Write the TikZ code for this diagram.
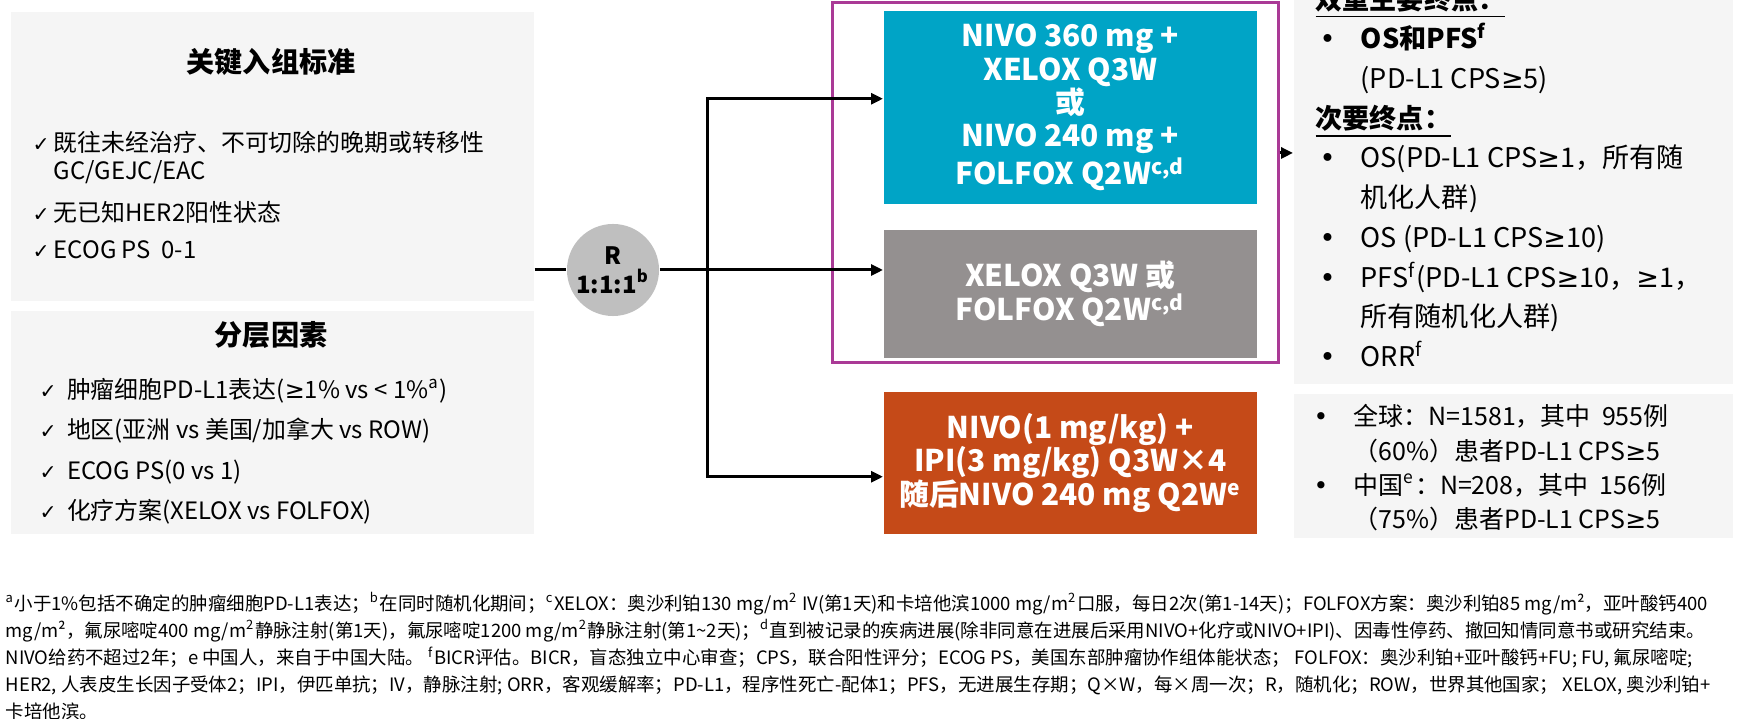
\documentclass[tikz,border=0pt]{standalone}
\usepackage{fontspec}
\setmainfont{Noto Sans CJK SC}
\newfontfamily\symfont{DejaVu Sans}
\usepackage{tikz}
\usetikzlibrary{arrows.meta, positioning, fit}
\definecolor{panelgray}{RGB}{245,245,245}
\definecolor{armteal}{RGB}{0,164,198}
\definecolor{armgray}{RGB}{148,144,144}
\definecolor{armorange}{RGB}{197,74,24}
\definecolor{framepurple}{RGB}{170,58,150}
\definecolor{randgray}{RGB}{191,191,191}
\tikzstyle{arrow} = [-{Triangle[length=0.12cm, width=0.11cm]}, line width=0.03cm, black]
\tikzstyle{link} = [line width=0.03cm, black]
\newcommand{\ck}[1][0.21cm]{\makebox[#1][l]{\symfont\fontsize{5.8pt}{5.8pt}\selectfont ✓}}
\newcommand{\bl}[1][0.45cm]{\makebox[#1][l]{\hspace{0.04cm}{\symfont •}}}
\newcommand{\geqsym}{{\symfont ≥}}

\begin{document}
\begin{tikzpicture}[
    x=0.01cm, y=-0.01cm,
    panel/.style={rectangle, fill=panelgray, inner sep=0pt, anchor=north west},
    ptitle/.style={font=\fontsize{8pt}{9pt}\selectfont\bfseries},
    plist/.style={anchor=north west, inner sep=0pt, align=left},
    arm/.style={rectangle, anchor=north west, inner sep=0pt, minimum width=3.73cm,
                text=white, align=center, font=\fontsize{8.5pt}{9.5pt}\selectfont\bfseries},
    randc/.style={circle, fill=randgray, minimum size=0.92cm, inner sep=0pt, align=center,
                  font=\fontsize{6.8pt}{8.2pt}\selectfont\bfseries},
    frame/.style={rectangle, draw=framepurple, line width=0.03cm, inner sep=0pt}
]
    \useasboundingbox (0,0) rectangle (1754,719);

    % Left: inclusion criteria + stratification
    \node[panel, minimum width=5.23cm, minimum height=2.89cm] (crit) at (10,11) {};
    \node[ptitle] (critT) at (271,62) {关键入组标准};
    \node[plist, font=\fontsize{6.8pt}{7.97pt}\selectfont] (critL) at (32,131) {%
        \ck 既往未经治疗、不可切除的晚期或转移性\\
        \hspace*{0.21cm}GC/GEJC/EAC\\[3.7pt]
        \ck 无已知HER2阳性状态\\[2.8pt]
        \ck ECOG PS\ \ 0-1};

    \node[panel, minimum width=5.23cm, minimum height=2.23cm] (strat) at (10,310) {};
    \node[ptitle] (stratT) at (271,335) {分层因素};
    \node[plist, font=\fontsize{6.8pt}{11.4pt}\selectfont] (stratL) at (39,378) {%
        \ck[0.22cm] 肿瘤细胞PD-L1表达(\geqsym 1\% vs < 1\%\textsuperscript{a})\\
        \ck[0.22cm] 地区(亚洲 vs 美国/加拿大 vs ROW)\\
        \ck[0.22cm] ECOG PS(0 vs 1)\\
        \ck[0.22cm] 化疗方案(XELOX vs FOLFOX)};

    % Randomisation
    \node[randc] (rand) at (613,270) {R\\1:1:1\textsuperscript{b}};
    \coordinate (split) at (707,270);

    % Arms
    \node[arm, fill=armteal, minimum height=1.93cm] (armA) at (883,10) {%
        NIVO 360 mg +\\XELOX Q3W\\或\\NIVO 240 mg +\\FOLFOX Q2W\textsuperscript{c,d}};
    \node[arm, fill=armgray, minimum height=1.28cm] (armB) at (883,229) {%
        XELOX Q3W 或\\FOLFOX Q2W\textsuperscript{c,d}};
    \node[arm, fill=armorange, minimum height=1.42cm] (armC) at (883,391) {%
        NIVO(1 mg/kg) +\\IPI(3 mg/kg) Q3W×4\\随后NIVO 240 mg Q2W\textsuperscript{e}};
    \node[frame, fit={(832,3) (1278,363)}] (ctrl) {};

    % Right: endpoints + population
    \node[panel, minimum width=4.39cm, minimum height=4.03cm] (endp) at (1293,-20) {};
    \node[plist, font=\fontsize{7.7pt}{11.3pt}\selectfont] (endpL) at (1315,-15) {%
        \textbf{\underline{双重主要终点：}}\\
        \bl\textbf{OS和PFS\textsuperscript{f}}\\
        \hspace*{0.45cm}(PD-L1 CPS\geqsym 5)\\
        \textbf{\underline{次要终点：}}\\
        \bl OS(PD-L1 CPS\geqsym 1，所有随\\
        \hspace*{0.45cm}机化人群)\\
        \bl OS (PD-L1 CPS\geqsym 10)\\
        \bl PFS\textsuperscript{f}(PD-L1 CPS\geqsym 10，\geqsym 1，\\
        \hspace*{0.45cm}所有随机化人群)\\
        \bl ORR\textsuperscript{f}};

    \node[panel, minimum width=4.39cm, minimum height=1.44cm] (pop) at (1293,393) {};
    \node[plist, font=\fontsize{7.1pt}{9.7pt}\selectfont] (popL) at (1309,404) {%
        \bl[0.44cm]全球：N=1581，其中\ \ 955例\\
        \hspace*{0.44cm}（60\%）患者PD-L1 CPS\geqsym 5\\
        \bl[0.44cm]中国\textsuperscript{e}：N=208，其中\ \ 156例\\
        \hspace*{0.44cm}（75\%）患者PD-L1 CPS\geqsym 5};

    % Connectors
    \draw[link] (crit.east |- rand) -- (rand.west);
    \draw[arrow] (rand.east) -- (rand -| armB.west);
    \draw[arrow] (split) |- ([yshift=0.085cm]armA.west);
    \draw[arrow] (split) |- ([yshift=-0.14cm]armC.west);
    \draw[arrow] ([yshift=0.3cm]ctrl.east) -- ([yshift=0.3cm]ctrl.east -| endp.west);

    % Footnotes
    \node[plist, font=\fontsize{5.25pt}{7.68pt}\selectfont] (notes) at (5,592) {%
        \textsuperscript{a}小于1\%包括不确定的肿瘤细胞PD-L1表达；\textsuperscript{b}在同时随机化期间；\textsuperscript{c}XELOX：奥沙利铂130 mg/m\textsuperscript{2} IV(第1天)和卡培他滨1000 mg/m\textsuperscript{2}口服，每日2次(第1-14天)；FOLFOX方案：奥沙利铂85 mg/m²，亚叶酸钙400\\
        mg/m²，氟尿嘧啶400 mg/m\textsuperscript{2}静脉注射(第1天)，氟尿嘧啶1200 mg/m\textsuperscript{2}静脉注射(第1\textasciitilde 2天)；\textsuperscript{d}直到被记录的疾病进展(除非同意在进展后采用NIVO+化疗或NIVO+IPI)、因毒性停药、撤回知情同意书或研究结束。\\
        NIVO给药不超过2年；e 中国人，来自于中国大陆。 \textsuperscript{f}BICR评估。BICR，盲态独立中心审查；CPS，联合阳性评分；ECOG PS，美国东部肿瘤协作组体能状态； FOLFOX：奥沙利铂+亚叶酸钙+FU; FU, 氟尿嘧啶;\\
        HER2, 人表皮生长因子受体2；IPI，伊匹单抗；IV，静脉注射; ORR，客观缓解率；PD-L1，程序性死亡-配体1；PFS，无进展生存期；Q×W，每×周一次；R，随机化；ROW，世界其他国家； XELOX, 奥沙利铂+\\
        卡培他滨。};

\end{tikzpicture}
\end{document}
